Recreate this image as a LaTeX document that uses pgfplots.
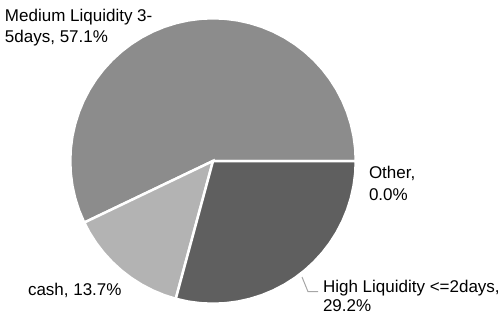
\documentclass[border=0pt]{standalone}
\usepackage{fontspec}
\setmainfont{Liberation Sans}
\usepackage{pgfplots}
\pgfplotsset{compat=1.18}
\definecolor{medgray}{HTML}{8C8C8C}
\definecolor{cashgray}{HTML}{B3B3B3}
\definecolor{highgray}{HTML}{5F5F5F}
\definecolor{leadgray}{HTML}{A6A6A6}
\tikzset{lbl/.style={font=\fontsize{17}{20.5}\selectfont, inner sep=0pt, outer sep=0pt, anchor=base west, text=black}}
\begin{document}
\begin{tikzpicture}
\begin{axis}[
  width=502pt, height=316pt, scale only axis,
  xmin=-213, xmax=289, ymin=-155, ymax=161,
  hide axis, clip=false,
]
% Medium Liquidity 3-5days: 57.1% -> 0 to 205.56 deg
\addplot[fill=medgray, draw=white, line width=2.5pt, data cs=polar] coordinates {
(0,0) (0,142.75) (5,142.75) (10,142.75) (15,142.75) (20,142.75) (25,142.75) (30,142.75)
(35,142.75) (40,142.75) (45,142.75) (50,142.75) (55,142.75) (60,142.75) (65,142.75)
(70,142.75) (75,142.75) (80,142.75) (85,142.75) (90,142.75) (95,142.75) (100,142.75)
(105,142.75) (110,142.75) (115,142.75) (120,142.75) (125,142.75) (130,142.75) (135,142.75)
(140,142.75) (145,142.75) (150,142.75) (155,142.75) (160,142.75) (165,142.75) (170,142.75)
(175,142.75) (180,142.75) (185,142.75) (190,142.75) (195,142.75) (200,142.75) (205.56,142.75)
} -- cycle;
% cash: 13.7% -> 205.56 to 254.88 deg
\addplot[fill=cashgray, draw=white, line width=2.5pt, data cs=polar] coordinates {
(0,0) (205.56,142.75) (210,142.75) (215,142.75) (220,142.75) (225,142.75) (230,142.75)
(235,142.75) (240,142.75) (245,142.75) (250,142.75) (254.88,142.75)
} -- cycle;
% High Liquidity <=2days: 29.2% -> 254.88 to 360 deg
\addplot[fill=highgray, draw=white, line width=2.5pt, data cs=polar] coordinates {
(0,0) (254.88,142.75) (260,142.75) (265,142.75) (270,142.75) (275,142.75) (280,142.75)
(285,142.75) (290,142.75) (295,142.75) (300,142.75) (305,142.75) (310,142.75) (315,142.75)
(320,142.75) (325,142.75) (330,142.75) (335,142.75) (340,142.75) (345,142.75) (350,142.75)
(355,142.75) (360,142.75)
} -- cycle;
% leader line
\draw[leadgray, line width=1pt] (axis cs:89,-116) -- (axis cs:95,-130.7) -- (axis cs:105,-130.7);
% labels
\node[lbl] at (axis cs:-208,139) {Medium Liquidity 3-};
\node[lbl] at (axis cs:-208,118) {5days, 57.1\%};
\node[lbl] at (axis cs:156,-17) {Other,};
\node[lbl] at (axis cs:156,-39.5) {0.0\%};
\node[lbl] at (axis cs:-185,-134) {cash, 13.7\%};
\node[lbl] at (axis cs:110,-131) {High Liquidity <=2days,};
\node[lbl] at (axis cs:110,-150) {29.2\%};
\end{axis}
\pgfresetboundingbox
\useasboundingbox (current axis.south west) rectangle (current axis.north east);
\end{tikzpicture}
\end{document}
